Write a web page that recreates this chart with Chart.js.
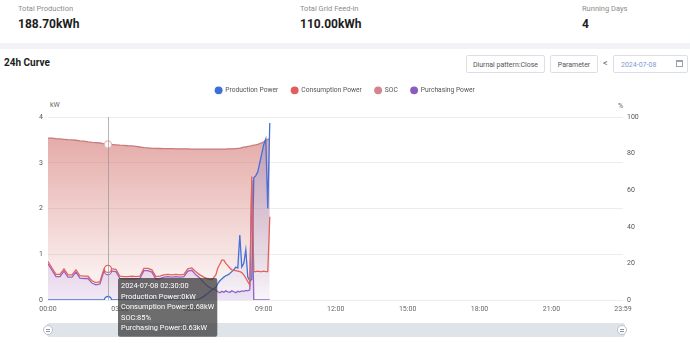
<!DOCTYPE html>
<html><head><meta charset="utf-8">
<script src="https://cdn.jsdelivr.net/npm/chart.js@4"></script>
<style>
body{margin:0;width:690px;height:343px;overflow:hidden;background:#fff;font-family:Roboto,"Liberation Sans",sans-serif;position:relative}
.abs{position:absolute;white-space:nowrap}
.lbl{font-size:7.5px;color:#8c8c8c}
.val{font-size:12px;font-weight:bold;color:#1d1d1d}
.btn{position:absolute;border:1px solid #dcdfe6;border-radius:2px;font-size:7px;color:#555;height:18px;line-height:18px;text-align:center;box-sizing:border-box;background:#fff}
#wrap{position:absolute;left:0;top:74px;width:690px;height:269px}
.handle{position:absolute;width:10px;height:10px;border-radius:50%;background:#fff;border:1px solid #b9c0c9;box-sizing:border-box}
.handle:before,.handle:after{content:"";position:absolute;left:2px;width:4px;height:1px;background:#8a939e}
.handle:before{top:3px}.handle:after{top:5px}
</style>
</head><body>
<div class="abs lbl" style="left:18px;top:4px">Total Production</div>
<div class="abs val" style="left:18px;top:17px">188.70kWh</div>
<div class="abs lbl" style="left:300px;top:4px">Total Grid Feed-in</div>
<div class="abs val" style="left:300px;top:17px">110.00kWh</div>
<div class="abs lbl" style="left:582px;top:4px">Running Days</div>
<div class="abs val" style="left:582px;top:17px">4</div>
<div class="abs" style="left:0;top:43px;width:690px;height:6px;background:#f2f3f6"></div>
<div class="abs" style="left:4px;top:57px;font-size:10px;font-weight:bold;color:#1d1d1d">24h Curve</div>
<div class="btn" style="left:466px;top:55px;width:79px">Diurnal pattern:Close</div>
<div class="btn" style="left:550px;top:55px;width:48px">Parameter</div>
<div class="abs" style="left:603px;top:58px;font-size:9px;color:#666">&lt;</div>
<div class="btn" style="left:613px;top:55px;width:75px;text-align:left;padding-left:7px;color:#7d9bd0">2024-07-08</div>
<div class="abs" style="left:676px;top:60px;width:7px;height:7px;border:1px solid #9aa3ad;border-top-width:2px;box-sizing:border-box"></div>
<div class="abs" style="left:50px;top:101px;font-size:7px;color:#666">kW</div>
<div class="abs" style="left:618px;top:102px;font-size:7px;color:#666">%</div>
<div class="abs" style="left:47px;top:323px;width:578px;height:14px;background:#dfe4eb;border-radius:2px"></div>
<div class="handle" style="left:43px;top:325px"></div>
<div class="handle" style="left:617px;top:325px"></div>
<div id="wrap"><canvas id="c" width="690" height="269"></canvas></div>
<script>
// time of day in minutes
const times = [0,10,20,30,40,50,60,70,80,90,
  100,110,120,130,140,150,160,170,180,190,
  200,210,220,230,240,250,260,270,280,290,
  300,310,320,330,340,350,360,370,380,390,
  400,410,420,425,430,435,440,445,450,455,
  460,465,470,475,480,485,490,495,500,505,
  510,515,520,525,530,535,540,545,550,555];
const productionPower = [0,0,0,0,0,0,0,0,0,0,
  0,0,0,0,0,0,0,0,0,0,
  0,0,0,0,0,0,0,0,0,0,
  0,0,0,0,0,0,0,0,0.03,0.08,
  0.15,0.22,0.28,0.36,0.42,0.46,0.50,0.53,0.55,0.58,
  0.62,0.66,0.72,0.70,1.42,0.72,0.80,1.10,0.50,0.42,
  0.45,2.67,2.72,2.80,3.00,3.20,3.40,3.52,2.00,3.87];
const consumptionPower = [0.84,0.70,0.56,0.56,0.68,0.55,0.55,0.66,0.53,0.52,
  0.52,0.42,0.38,0.40,0.68,0.68,0.68,0.67,0.52,0.51,
  0.51,0.52,0.51,0.52,0.69,0.69,0.66,0.51,0.52,0.55,
  0.56,0.55,0.56,0.55,0.56,0.68,0.70,0.62,0.55,0.50,
  0.46,0.44,0.55,0.70,0.78,0.87,0.87,0.80,0.75,0.70,
  0.66,0.65,0.64,0.63,0.62,0.60,0.55,0.48,0.40,0.33,
  2.70,0.62,0.62,0.63,0.62,0.62,0.63,0.62,0.62,1.82];
const soc = [88.5,88.5,88.2,88,87.8,87.6,87.5,87.3,87,86.8,
  86.4,86.1,86,85.8,85.3,85,84.9,84.8,84.6,84.5,
  84.3,84.2,84,83.6,83.3,83.1,82.9,82.9,82.8,82.7,
  82.7,82.7,82.6,82.6,82.6,82.6,82.5,82.5,82.5,82.5,
  82.5,82.5,82.5,82.5,82.5,82.5,82.5,82.5,82.6,82.6,
  82.6,82.6,82.7,82.8,82.9,83.2,83.5,83.6,84.0,84.1,
  84.3,84.6,84.8,85.1,85.5,85.9,86.4,87.2,87.8,88.0];
const purchasingPower = [0.79,0.65,0.51,0.51,0.63,0.50,0.50,0.61,0.48,0.47,
  0.47,0.37,0.33,0.35,0.63,0.63,0.63,0.62,0.47,0.46,
  0.46,0.47,0.46,0.47,0.64,0.64,0.61,0.46,0.47,0.50,
  0.51,0.50,0.51,0.50,0.51,0.63,0.65,0.55,0.48,0.38,
  0.30,0.25,0.22,0.18,0.16,0.19,0.17,0.20,0.18,0.17,
  0.20,0.18,0.16,0.19,0.18,0.20,0.19,0.21,0.20,0.22,
  2.60,0,0,0,0,0,0,0,0,0];
const xTickMinutes = [0,180,360,540,720,900,1080,1260,1439];
const seriesNames = ['Production Power','Consumption Power','SOC','Purchasing Power'];
const seriesColors = ['#4470d8','#e5625b','#c97a7c','#9561c2'];
const legendColors = ['#3e6fd8','#e35d5d','#d4848c','#8c5bbf'];
const units = ['kW','kW','%','kW'];
const dateLabel = '2024-07-08';
const hoverMinute = 150;

const pts = arr => times.map((t,i)=>({x:t,y:arr[i]}));
const fmt = m => String(Math.floor(m/60)).padStart(2,'0')+':'+String(m%60).padStart(2,'0');

function grad(r,g,b,a0,a1){
  return (ctx)=>{
    const ch = ctx.chart, ca = ch.chartArea;
    if(!ca) return `rgba(${r},${g},${b},${a1})`;
    const gr = ch.ctx.createLinearGradient(0,ca.top,0,ca.bottom);
    gr.addColorStop(0,`rgba(${r},${g},${b},${a0})`);
    gr.addColorStop(1,`rgba(${r},${g},${b},${a1})`);
    return gr;
  };
}
const common = {pointRadius:0,borderWidth:1.3,tension:0,pointHoverRadius:3.5,pointHoverBorderWidth:1.3,pointHoverBackgroundColor:'#fff'};

const legendSpacer = {id:'legendSpacer', beforeInit(chart){
  const orig = chart.legend.fit;
  chart.legend.fit = function(){ orig.call(this); this.height = 43; };
}};
const vline = {id:'vline', afterDatasetsDraw(chart){
  const x = chart.scales.x.getPixelForValue(hoverMinute);
  const ca = chart.chartArea, c = chart.ctx;
  c.save(); c.strokeStyle='rgba(150,150,150,0.7)'; c.lineWidth=1;
  c.beginPath(); c.moveTo(Math.round(x)+0.5,ca.top); c.lineTo(Math.round(x)+0.5,ca.bottom); c.stroke(); c.restore();
}};

Chart.Tooltip.positioners.fixed = function(){ return {x:120, y:204}; };
Chart.defaults.font.family = 'Roboto, "Liberation Sans", sans-serif';

const chart = new Chart(document.getElementById('c'), {
  type:'line',
  data:{datasets:[
    {...common,label:seriesNames[0],data:pts(productionPower),borderColor:seriesColors[0],pointHoverBorderColor:seriesColors[0],fill:'origin',backgroundColor:grad(90,120,230,0.28,0.04),yAxisID:'y',order:2},
    {...common,label:seriesNames[1],data:pts(consumptionPower),borderColor:seriesColors[1],pointHoverBorderColor:seriesColors[1],fill:false,backgroundColor:seriesColors[1],yAxisID:'y',order:1},
    {...common,label:seriesNames[2],data:pts(soc),borderColor:seriesColors[2],pointHoverBorderColor:'#e8b8b8',fill:'origin',backgroundColor:grad(214,125,120,0.72,0.03),yAxisID:'y2',order:4},
    {...common,label:seriesNames[3],data:pts(purchasingPower),borderColor:seriesColors[3],pointHoverBorderColor:seriesColors[3],fill:'origin',backgroundColor:grad(150,100,215,0.3,0.12),yAxisID:'y',order:3}
  ]},
  options:{
    responsive:false, animation:false, devicePixelRatio:1,
    layout:{padding:{left:0,right:0,top:0,bottom:22}},
    interaction:{mode:'index',intersect:false},
    scales:{
      x:{type:'linear',min:0,max:1439,
        afterBuildTicks(s){ s.ticks = xTickMinutes.map(v=>({value:v})); },
        afterFit(s){ s.height = 21; },
        ticks:{callback:v=>fmt(v),font:{size:7},color:'#666',padding:5,maxRotation:0,autoSkip:false},
        grid:{display:false,drawTicks:false},border:{display:false}},
      y:{position:'left',min:0,max:4,
        afterFit(s){ s.width = 48; },
        ticks:{stepSize:1,font:{size:7},color:'#555',padding:5},
        grid:{color:'#ececec',drawTicks:false},border:{display:false}},
      y2:{position:'right',min:0,max:100,
        afterFit(s){ s.width = 67; },
        ticks:{stepSize:20,font:{size:7},color:'#555',padding:4},
        grid:{display:false,drawTicks:false},border:{display:false}}
    },
    plugins:{
      legend:{position:'top',align:'center',
        labels:{usePointStyle:true,pointStyle:'circle',boxWidth:7,boxHeight:5.6,font:{size:6.7},color:'#555',padding:13,
          sort:(a,b)=>a.datasetIndex-b.datasetIndex,
          generateLabels(ch){ return ch.data.datasets.map((d,i)=>({text:d.label,fillStyle:legendColors[i],strokeStyle:legendColors[i],lineWidth:0,pointStyle:'circle',datasetIndex:i,hidden:false,fontColor:'#555'})); }}},
      tooltip:{position:'fixed',xAlign:'left',yAlign:'top',caretSize:0,caretPadding:0,
        backgroundColor:'rgba(60,60,60,0.75)',cornerRadius:2,padding:{left:3,right:3,top:4,bottom:4},
        titleFont:{size:7.4,weight:'normal'},bodyFont:{size:7.4},titleColor:'#fff',bodyColor:'#fff',
        titleMarginBottom:1.6,bodySpacing:1.6,displayColors:false,
        itemSort:(a,b)=>a.datasetIndex-b.datasetIndex,
        callbacks:{
          title:items=>dateLabel+' '+fmt(items[0].parsed.x)+':00',
          label:it=>seriesNames[it.datasetIndex]+':'+it.parsed.y+units[it.datasetIndex]
        }}
    }
  },
  plugins:[legendSpacer,vline]
});
const idx = times.indexOf(hoverMinute);
const act = [0,1,2,3].map(d=>({datasetIndex:d,index:idx}));
chart.setActiveElements(act);
chart.tooltip.setActiveElements(act,{x:chart.scales.x.getPixelForValue(hoverMinute),y:150});
chart.update();
</script>
</body></html>
